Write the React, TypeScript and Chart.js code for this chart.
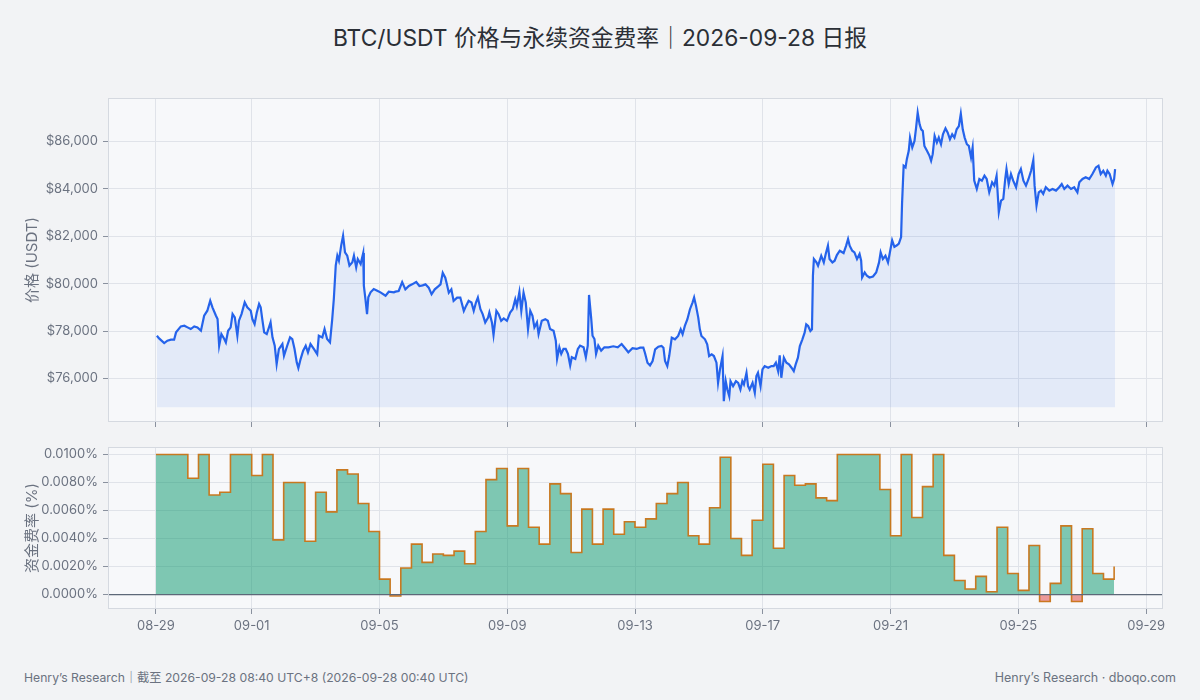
import { useEffect, useRef } from "react";
import Chart from "chart.js/auto";

const FONT = "Inter, 'Noto Sans CJK SC', sans-serif";
const TEXT = "#6b7280";
const GRID = "#e0e3e9";
const TICK = "#8a919e";

// x axis: days since 08-29 00:00
const dayTicks = [0, 3, 7, 11, 15, 19, 23, 27, 31];
const dayLabels = ["08-29", "09-01", "09-05", "09-09", "09-13", "09-17", "09-21", "09-25", "09-29"];
const priceTicks = [76000, 78000, 80000, 82000, 84000, 86000];
const fundingTicks = [0, 0.002, 0.004, 0.006, 0.008, 0.01];

// [day, price USDT]
const pricePoints: [number, number][] = [
  [0.03, 77803], [0.10, 77690], [0.26, 77493], [0.36, 77592], [0.47, 77634], [0.57, 77634], [0.63, 77944], [0.78, 78197], [0.89, 78225], [0.99, 78155],
  [1.09, 78085], [1.20, 78197], [1.30, 78155], [1.41, 78014], [1.51, 78648], [1.61, 78859], [1.70, 79282], [1.77, 79000], [1.88, 78648], [1.93, 78507],
  [1.98, 77380], [2.05, 77873], [2.14, 77662], [2.19, 77521], [2.26, 78014], [2.34, 78155], [2.40, 78718], [2.47, 78577], [2.55, 77803], [2.60, 78437],
  [2.68, 78718], [2.78, 79211], [2.86, 79000], [2.97, 78859], [3.02, 78507], [3.09, 78296], [3.16, 78789], [3.23, 79141], [3.28, 79000], [3.33, 78507],
  [3.39, 77944], [3.47, 77873], [3.54, 78155], [3.59, 78366], [3.65, 77732], [3.72, 77380], [3.78, 76606], [3.85, 77239], [3.96, 77451], [4.01, 76958],
  [4.11, 77380], [4.20, 77732], [4.27, 77662], [4.34, 77239], [4.41, 76676], [4.46, 76437], [4.53, 76817], [4.61, 77169], [4.69, 77380], [4.76, 77099],
  [4.84, 77451], [4.95, 77239], [5.05, 77028], [5.10, 77803], [5.21, 77732], [5.28, 78085], [5.36, 77662], [5.45, 77521], [5.52, 78507], [5.57, 79352],
  [5.63, 80761], [5.68, 81183], [5.73, 80972], [5.80, 81606], [5.86, 82028], [5.92, 81324], [5.99, 81183], [6.06, 80761], [6.15, 80901], [6.20, 81183],
  [6.27, 80690], [6.32, 81042], [6.41, 80831], [6.49, 81296], [6.51, 79915], [6.56, 79352], [6.61, 78718], [6.65, 79423], [6.72, 79634], [6.82, 79775],
  [6.93, 79704], [7.03, 79634], [7.19, 79493], [7.29, 79662], [7.45, 79634],
  [7.50, 79664], [7.60, 79692], [7.71, 80070], [7.81, 79762], [7.92, 79902], [8.02, 79972], [8.15, 80070], [8.25, 79902], [8.35, 79930], [8.44, 79972],
  [8.54, 79832], [8.63, 79552], [8.73, 79762], [8.83, 79874], [8.91, 79972], [8.98, 80462], [9.06, 80252], [9.11, 79972], [9.17, 79622], [9.25, 79762],
  [9.32, 79273], [9.43, 79413], [9.53, 79413], [9.64, 78853], [9.71, 79063], [9.79, 79273], [9.88, 79203], [9.95, 78853], [10.02, 79203], [10.08, 79413],
  [10.16, 78923], [10.23, 78713], [10.31, 78364], [10.40, 78573], [10.44, 78783], [10.52, 78364], [10.57, 77832], [10.66, 78853], [10.73, 78713], [10.81, 78434],
  [10.89, 78531], [10.99, 78434], [11.09, 78783], [11.17, 78923], [11.25, 79343], [11.30, 79063], [11.38, 79650], [11.44, 78853], [11.51, 79622], [11.58, 79203],
  [11.65, 78084], [11.72, 78853], [11.79, 78643], [11.85, 78154], [11.93, 78364], [11.98, 77874], [12.08, 78434], [12.19, 78503], [12.27, 78434], [12.34, 78084],
  [12.45, 78014], [12.52, 77594], [12.56, 76825], [12.63, 77315], [12.69, 77035], [12.76, 77245], [12.83, 77245], [12.90, 77035], [12.97, 76545], [13.02, 76895],
  [13.13, 76825], [13.21, 77245], [13.28, 77385], [13.39, 77315], [13.46, 76895], [13.52, 77385], [13.56, 79524], [13.63, 78503], [13.67, 77804], [13.73, 77664],
  [13.78, 77035], [13.85, 77385], [13.94, 77175], [14.04, 77315], [14.17, 77315], [14.32, 77357], [14.46, 77315], [14.58, 77455], [14.69, 77273], [14.79, 77105],
  [14.92, 77273], [15.05, 77245],
  [15.16, 77298], [15.26, 77298], [15.31, 77086], [15.39, 76663], [15.47, 76550], [15.55, 76733], [15.63, 77227], [15.73, 77340], [15.83, 77369], [15.89, 77298],
  [15.94, 76733], [16.01, 76521], [16.07, 76945], [16.15, 77722], [16.25, 77651], [16.35, 77792], [16.43, 78075], [16.49, 77863], [16.56, 78216], [16.64, 78498],
  [16.72, 78922], [16.80, 79204], [16.85, 79416], [16.91, 79063], [16.98, 78569], [17.03, 78075], [17.08, 77792], [17.19, 77651], [17.26, 77439], [17.32, 76945],
  [17.40, 77016], [17.47, 76945], [17.55, 76663], [17.60, 75815], [17.66, 76380], [17.74, 76945], [17.78, 75039], [17.84, 75886], [17.89, 75533], [17.95, 75251],
  [17.99, 75886], [18.07, 75674], [18.16, 75886], [18.23, 75815], [18.30, 75533], [18.36, 75886], [18.41, 75745], [18.49, 76239], [18.54, 75674], [18.59, 75533],
  [18.68, 75815], [18.75, 75392], [18.80, 76098], [18.85, 76239], [18.93, 75674], [18.99, 76380], [19.06, 76521], [19.17, 76451], [19.27, 76521], [19.34, 76521],
  [19.41, 76663], [19.48, 76310], [19.53, 76973], [19.58, 76027], [19.66, 76874], [19.74, 76663], [19.82, 76592], [19.90, 76451], [19.97, 76310], [20.03, 76592],
  [20.10, 76874], [20.16, 77369], [20.24, 77651], [20.31, 77933], [20.36, 78286], [20.42, 78216], [20.49, 78004], [20.54, 78075], [20.57, 80334], [20.60, 81040],
  [20.68, 80899], [20.73, 80757], [20.83, 81181], [20.91, 80899], [20.97, 81252], [21.04, 81605], [21.09, 81040], [21.18, 80899], [21.25, 80969], [21.32, 81209],
  [21.41, 81393], [21.53, 81294], [21.61, 81605], [21.67, 81887], [21.72, 81605], [21.80, 81393], [21.87, 81322], [21.95, 81040], [22.03, 81252], [22.08, 80969],
  [22.11, 80263], [22.19, 80475], [22.26, 80334], [22.34, 80263], [22.45, 80306], [22.55, 80475], [22.64, 80899], [22.69, 81322], [22.76, 81040], [22.84, 81181],
  [22.92, 80899], [22.97, 81252],
  [23.05, 81832], [23.12, 81552], [23.20, 81622], [23.26, 81692], [23.33, 81972], [23.36, 83371], [23.41, 84979], [23.47, 84909], [23.51, 85259], [23.57, 85608],
  [23.61, 86168], [23.68, 85748], [23.75, 86028], [23.80, 86587], [23.85, 87217], [23.91, 86727], [23.96, 86517], [24.01, 86448], [24.06, 85818], [24.14, 85608],
  [24.22, 85399], [24.27, 85189], [24.32, 85469], [24.38, 86238], [24.45, 85958], [24.51, 86168], [24.58, 85888], [24.64, 86308], [24.72, 86559], [24.79, 86378],
  [24.86, 86098], [24.93, 86308], [25.00, 86168], [25.07, 86517], [25.14, 86657], [25.20, 87175], [25.26, 86517], [25.32, 86168], [25.39, 85888], [25.45, 85818],
  [25.52, 85329], [25.57, 85748], [25.62, 84350], [25.70, 84000], [25.78, 84420], [25.86, 84350], [25.94, 84559], [26.01, 84420], [26.09, 83860], [26.18, 84280],
  [26.25, 84140], [26.32, 84559], [26.39, 83021], [26.46, 83511], [26.53, 83580], [26.59, 84420], [26.63, 84839], [26.70, 84210], [26.77, 84629], [26.84, 84350],
  [26.93, 84070], [27.01, 84629], [27.08, 84839], [27.16, 84350], [27.24, 84140], [27.32, 84420], [27.40, 84769], [27.47, 85217], [27.51, 84140], [27.57, 83301],
  [27.64, 83860], [27.71, 83930], [27.78, 83790], [27.86, 84070], [27.97, 83930], [28.07, 84000], [28.18, 83930], [28.28, 84070], [28.36, 84210], [28.44, 84000],
  [28.54, 84140], [28.65, 84000], [28.75, 84070], [28.85, 83860], [28.91, 84280], [29.01, 84420], [29.11, 84490], [29.22, 84420], [29.32, 84629], [29.43, 84909],
  [29.51, 84979], [29.58, 84629], [29.66, 84769], [29.74, 84559], [29.79, 84769], [29.86, 84629], [29.95, 84210], [30.00, 84420], [30.03, 84839],
];

// funding rate (%) every 8h from 08-29 00:00
const fundingRates = [
  0.0100, 0.0100, 0.0100, 0.0083, 0.0100, 0.0071, 0.0073, 0.0100, 0.0100, 0.0085, 0.0100,
  0.0039, 0.0080, 0.0080, 0.0038, 0.0073, 0.0059, 0.0089, 0.0086, 0.0065, 0.0045, 0.0011, -0.0001,
  0.0019, 0.0036, 0.0023, 0.0029, 0.0028, 0.0031, 0.0022, 0.0045, 0.0082, 0.0090, 0.0049, 0.0090,
  0.0048, 0.0036, 0.0079, 0.0072, 0.0030, 0.0061, 0.0036, 0.0061, 0.0043, 0.0052, 0.0048,
  0.0054, 0.0065, 0.0072, 0.0080, 0.0042, 0.0036, 0.0062, 0.0098, 0.0040, 0.0028, 0.0053, 0.0093,
  0.0033, 0.0085, 0.0078, 0.0079, 0.0069, 0.0067, 0.0100, 0.0100, 0.0100, 0.0100, 0.0075,
  0.0042, 0.0100, 0.0055, 0.0077, 0.0100, 0.0028, 0.0010, 0.0004, 0.0013, 0.0002, 0.0048,
  0.0015, 0.0003, 0.0035, -0.0005, 0.0008, 0.0049, -0.0005, 0.0047, 0.0015, 0.0011, 0.0020,
];

const X_MIN = -1.5;
const X_MAX = 31.53;
const PRICE_FLOOR = 74780;

const panelPlugin = {
  id: "panel",
  beforeDraw(chart: any) {
    const { ctx, chartArea: a } = chart;
    ctx.save();
    ctx.fillStyle = "#f7f8fa";
    ctx.fillRect(a.left, a.top, a.right - a.left, a.bottom - a.top);
    ctx.restore();
  },
  afterDatasetsDraw(chart: any, _args: any, opts: any) {
    const { ctx, chartArea: a } = chart;
    ctx.save();
    if (opts && opts.zeroLine) {
      const y = chart.scales.y.getPixelForValue(0);
      ctx.strokeStyle = "#5d6878";
      ctx.lineWidth = 1.3;
      ctx.beginPath();
      ctx.moveTo(a.left, y);
      ctx.lineTo(a.right, y);
      ctx.stroke();
    }
    ctx.strokeStyle = "#d5d9e0";
    ctx.lineWidth = 1;
    ctx.strokeRect(a.left + 0.5, a.top + 0.5, a.right - a.left - 1, a.bottom - a.top - 1);
    ctx.restore();
  },
};

function xScale(showLabels: boolean, height: number) {
  return {
    type: "linear",
    min: X_MIN,
    max: X_MAX,
    afterBuildTicks: (s: any) => {
      s.ticks = dayTicks.map((v) => ({ value: v }));
    },
    afterFit: (s: any) => {
      s.height = height;
      s.paddingLeft = 0;
      s.paddingRight = 0;
    },
    ticks: {
      display: showLabels,
      autoSkip: false,
      maxRotation: 0,
      padding: 4,
      color: TEXT,
      font: { family: FONT, size: 13 },
      callback: (v: number) => dayLabels[dayTicks.indexOf(v)] ?? "",
    },
    grid: { color: GRID, tickLength: 5, tickColor: TICK },
    border: { display: false },
  };
}

function yScale(title: string, min: number, max: number, ticks: number[], fmt: (v: number) => string) {
  return {
    min,
    max,
    afterBuildTicks: (s: any) => {
      s.ticks = ticks.map((v) => ({ value: v }));
    },
    afterFit: (s: any) => {
      s.width = 108;
      s.paddingTop = 0;
      s.paddingBottom = 0;
    },
    ticks: {
      padding: 5,
      color: TEXT,
      font: { family: FONT, size: 13 },
      callback: (v: number) => fmt(v),
    },
    grid: { color: GRID, tickLength: 5, tickColor: TICK },
    border: { display: false },
    title: {
      display: true,
      text: title,
      color: TEXT,
      font: { family: FONT, size: 15 },
      padding: { top: 23, bottom: 0 },
    },
  };
}

const App = () => {
  const priceRef = useRef<HTMLCanvasElement>(null);
  const fundRef = useRef<HTMLCanvasElement>(null);

  useEffect(() => {
    if (!priceRef.current || !fundRef.current) return;

    const priceChart = new Chart(priceRef.current, {
      type: "line",
      data: {
        datasets: [
          {
            data: pricePoints.map(([x, y]) => ({ x, y })),
            borderColor: "#2563eb",
            borderWidth: 2.2,
            pointRadius: 0,
            tension: 0,
            fill: { value: PRICE_FLOOR },
            backgroundColor: "rgba(37, 99, 235, 0.09)",
          },
        ],
      },
      options: {
        animation: false,
        responsive: false,
        layout: { padding: { top: 8, right: 37, left: 0, bottom: 0 } },
        plugins: { legend: { display: false }, tooltip: { enabled: false }, panel: {} },
        scales: {
          x: xScale(false, 13),
          y: yScale("价格 (USDT)", 74160, 87840, priceTicks, (v) => "$" + v.toLocaleString("en-US")),
        },
      } as any,
      plugins: [panelPlugin],
    });

    const fundChart = new Chart(fundRef.current, {
      type: "line",
      data: {
        datasets: [
          {
            data: fundingRates.map((v, k) => ({ x: k / 3, y: v })),
            stepped: true,
            borderColor: "rgba(200, 115, 22, 0.95)",
            borderWidth: 1.6,
            pointRadius: 0,
            fill: {
              target: "origin",
              above: "rgba(5, 150, 105, 0.5)",
              below: "rgba(220, 38, 38, 0.45)",
            },
          },
        ],
      },
      options: {
        animation: false,
        responsive: false,
        layout: { padding: { top: 7, right: 37, left: 0, bottom: 0 } },
        plugins: { legend: { display: false }, tooltip: { enabled: false }, panel: { zeroLine: true } },
        scales: {
          x: xScale(true, 31),
          y: yScale("资金费率 (%)", -0.00103, 0.01053, fundingTicks, (v) => v.toFixed(4) + "%"),
        },
      } as any,
      plugins: [panelPlugin],
    });

    return () => {
      priceChart.destroy();
      fundChart.destroy();
    };
  }, []);

  return (
    <div
      style={{
        position: "fixed",
        left: 0,
        top: 0,
        width: 1200,
        height: 700,
        background: "#f2f3f5",
        fontFamily: FONT,
        overflow: "hidden",
      }}
    >
      <div
        style={{
          position: "absolute",
          top: 23,
          left: 0,
          width: 1200,
          textAlign: "center",
          fontSize: 22.8,
          fontWeight: 400,
          lineHeight: "30px",
          color: "#2b2f36",
        }}
      >
        BTC/USDT 价格与永续资金费率｜2026-09-28 日报
      </div>
      <canvas ref={priceRef} width={1200} height={345} style={{ position: "absolute", left: 0, top: 90 }} />
      <canvas ref={fundRef} width={1200} height={200} style={{ position: "absolute", left: 0, top: 440 }} />
      <div style={{ position: "absolute", left: 24, top: 669, fontSize: 12.2, color: TEXT, lineHeight: "18px" }}>
        Henry’s Research｜截至 2026-09-28 08:40 UTC+8 (2026-09-28 00:40 UTC)
      </div>
      <div style={{ position: "absolute", right: 24, top: 669, fontSize: 12.5, color: TEXT, lineHeight: "18px" }}>
        Henry’s Research · dboqo.com
      </div>
    </div>
  );
};

export default App;
